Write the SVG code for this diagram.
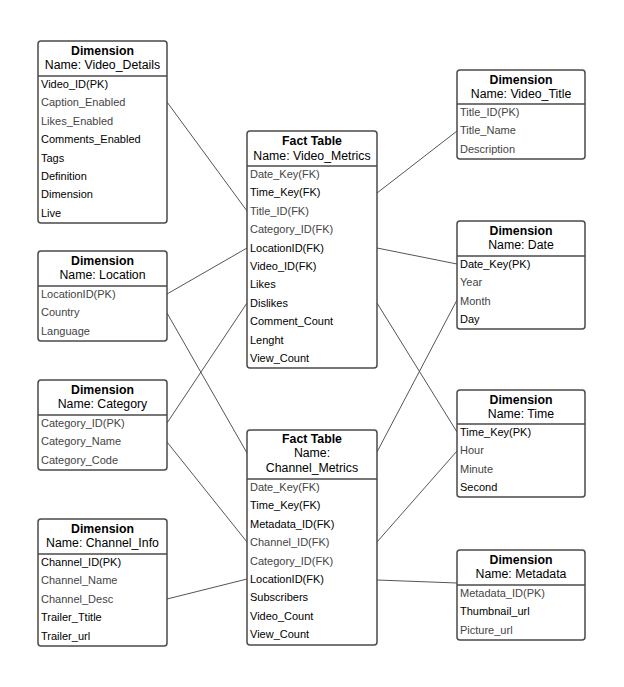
<svg xmlns="http://www.w3.org/2000/svg" width="624" height="687" viewBox="0 0 624 687">
<style>
.box{fill:#fff;stroke:#4a4a4a;stroke-width:1.5}
.div{stroke:#4a4a4a;stroke-width:1.5}
.h1{font-family:"Liberation Sans",Arial,sans-serif;font-size:12.3px;font-weight:bold;fill:#000;text-anchor:middle}
.h2{font-family:"Liberation Sans",Arial,sans-serif;font-size:12.3px;fill:#000;text-anchor:middle}
.r{font-family:"Liberation Sans",Arial,sans-serif;font-size:11px;fill:#000}
.g{fill:#444}
.c{stroke:#555;stroke-width:1;fill:none}
</style>
<rect width="624" height="687" fill="#fff"/>
<g id="connectors">
<line class="c" x1="167" y1="102" x2="247" y2="211"/>
<line class="c" x1="457" y1="131" x2="377" y2="193"/>
<line class="c" x1="377" y1="248" x2="457" y2="264"/>
<line class="c" x1="167" y1="294" x2="247" y2="248"/>
<line class="c" x1="167" y1="423" x2="247" y2="303"/>
<line class="c" x1="167" y1="313" x2="247" y2="453"/>
<line class="c" x1="167" y1="442" x2="247" y2="542"/>
<line class="c" x1="167" y1="599" x2="247" y2="579"/>
<line class="c" x1="377" y1="303" x2="457" y2="432"/>
<line class="c" x1="457" y1="300" x2="377" y2="452"/>
<line class="c" x1="457" y1="451" x2="377" y2="542"/>
<line class="c" x1="377" y1="580" x2="457" y2="583"/>
</g>
<g id="video_details">
<rect class="box" x="38" y="41" width="129" height="182" rx="3"/>
<line class="div" x1="38" y1="76" x2="167" y2="76"/>
<text class="h1" x="102.5" y="54.5">Dimension</text>
<text class="h2" x="102.5" y="68.5">Name: Video_Details</text>
<text class="r" x="41" y="88">Video_ID(PK)</text>
<text class="r g" x="41" y="106.4">Caption_Enabled</text>
<text class="r g" x="41" y="124.8">Likes_Enabled</text>
<text class="r" x="41" y="143.2">Comments_Enabled</text>
<text class="r" x="41" y="161.6">Tags</text>
<text class="r" x="41" y="180">Definition</text>
<text class="r" x="41" y="198.4">Dimension</text>
<text class="r" x="41" y="216.8">Live</text>
</g>
<g id="video_metrics">
<rect class="box" x="247" y="131" width="130" height="237" rx="3"/>
<line class="div" x1="247" y1="166" x2="377" y2="166"/>
<text class="h1" x="312" y="144.5">Fact Table</text>
<text class="h2" x="312" y="159.5">Name: Video_Metrics</text>
<text class="r g" x="250" y="178">Date_Key(FK)</text>
<text class="r" x="250" y="196.4">Time_Key(FK)</text>
<text class="r g" x="250" y="214.8">Title_ID(FK)</text>
<text class="r g" x="250" y="233.2">Category_ID(FK)</text>
<text class="r" x="250" y="251.6">LocationID(FK)</text>
<text class="r" x="250" y="270">Video_ID(FK)</text>
<text class="r" x="250" y="288.4">Likes</text>
<text class="r" x="250" y="306.8">Dislikes</text>
<text class="r" x="250" y="325.2">Comment_Count</text>
<text class="r" x="250" y="343.6">Lenght</text>
<text class="r" x="250" y="362">View_Count</text>
</g>
<g id="video_title">
<rect class="box" x="457" y="70" width="128" height="89" rx="3"/>
<line class="div" x1="457" y1="104" x2="585" y2="104"/>
<text class="h1" x="521" y="83.5">Dimension</text>
<text class="h2" x="521" y="97.5">Name: Video_Title</text>
<text class="r g" x="460" y="116">Title_ID(PK)</text>
<text class="r g" x="460" y="134.4">Title_Name</text>
<text class="r g" x="460" y="152.8">Description</text>
</g>
<g id="date">
<rect class="box" x="457" y="221" width="128" height="108" rx="3"/>
<line class="div" x1="457" y1="256" x2="585" y2="256"/>
<text class="h1" x="521" y="234.5">Dimension</text>
<text class="h2" x="521" y="248.5">Name: Date</text>
<text class="r" x="460" y="268">Date_Key(PK)</text>
<text class="r g" x="460" y="286.4">Year</text>
<text class="r g" x="460" y="304.8">Month</text>
<text class="r" x="460" y="323.2">Day</text>
</g>
<g id="location">
<rect class="box" x="38" y="251" width="129" height="90" rx="3"/>
<line class="div" x1="38" y1="286" x2="167" y2="286"/>
<text class="h1" x="102.5" y="264.5">Dimension</text>
<text class="h2" x="102.5" y="278.5">Name: Location</text>
<text class="r g" x="41" y="298">LocationID(PK)</text>
<text class="r g" x="41" y="316.4">Country</text>
<text class="r g" x="41" y="334.8">Language</text>
</g>
<g id="category">
<rect class="box" x="38" y="380" width="129" height="90" rx="3"/>
<line class="div" x1="38" y1="415" x2="167" y2="415"/>
<text class="h1" x="102.5" y="393.5">Dimension</text>
<text class="h2" x="102.5" y="407.5">Name: Category</text>
<text class="r g" x="41" y="427">Category_ID(PK)</text>
<text class="r g" x="41" y="445.4">Category_Name</text>
<text class="r g" x="41" y="463.8">Category_Code</text>
</g>
<g id="channel_metrics">
<rect class="box" x="247" y="430" width="130" height="215" rx="3"/>
<line class="div" x1="247" y1="479" x2="377" y2="479"/>
<text class="h1" x="312" y="442.5">Fact Table</text>
<text class="h2" x="312" y="456.5">Name:</text>
<text class="h2" x="312" y="471.5">Channel_Metrics</text>
<text class="r g" x="250" y="491">Date_Key(FK)</text>
<text class="r" x="250" y="509.4">Time_Key(FK)</text>
<text class="r" x="250" y="527.8">Metadata_ID(FK)</text>
<text class="r g" x="250" y="546.2">Channel_ID(FK)</text>
<text class="r g" x="250" y="564.6">Category_ID(FK)</text>
<text class="r" x="250" y="583">LocationID(FK)</text>
<text class="r" x="250" y="601.4">Subscribers</text>
<text class="r" x="250" y="619.8">Video_Count</text>
<text class="r" x="250" y="638.2">View_Count</text>
</g>
<g id="time">
<rect class="box" x="457" y="390" width="128" height="107" rx="3"/>
<line class="div" x1="457" y1="424" x2="585" y2="424"/>
<text class="h1" x="521" y="403.5">Dimension</text>
<text class="h2" x="521" y="417.5">Name: Time</text>
<text class="r" x="460" y="436">Time_Key(PK)</text>
<text class="r g" x="460" y="454.4">Hour</text>
<text class="r g" x="460" y="472.8">Minute</text>
<text class="r" x="460" y="491.2">Second</text>
</g>
<g id="metadata">
<rect class="box" x="457" y="550" width="128" height="90" rx="3"/>
<line class="div" x1="457" y1="585" x2="585" y2="585"/>
<text class="h1" x="521" y="563.5">Dimension</text>
<text class="h2" x="521" y="577.5">Name: Metadata</text>
<text class="r g" x="460" y="597">Metadata_ID(PK)</text>
<text class="r" x="460" y="615.4">Thumbnail_url</text>
<text class="r g" x="460" y="633.8">Picture_url</text>
</g>
<g id="channel_info">
<rect class="box" x="38" y="519" width="129" height="127" rx="3"/>
<line class="div" x1="38" y1="554" x2="167" y2="554"/>
<text class="h1" x="102.5" y="532.5">Dimension</text>
<text class="h2" x="102.5" y="546.5">Name: Channel_Info</text>
<text class="r" x="41" y="566">Channel_ID(PK)</text>
<text class="r g" x="41" y="584.4">Channel_Name</text>
<text class="r g" x="41" y="602.8">Channel_Desc</text>
<text class="r" x="41" y="621.2">Trailer_Ttitle</text>
<text class="r" x="41" y="639.6">Trailer_url</text>
</g>
</svg>
